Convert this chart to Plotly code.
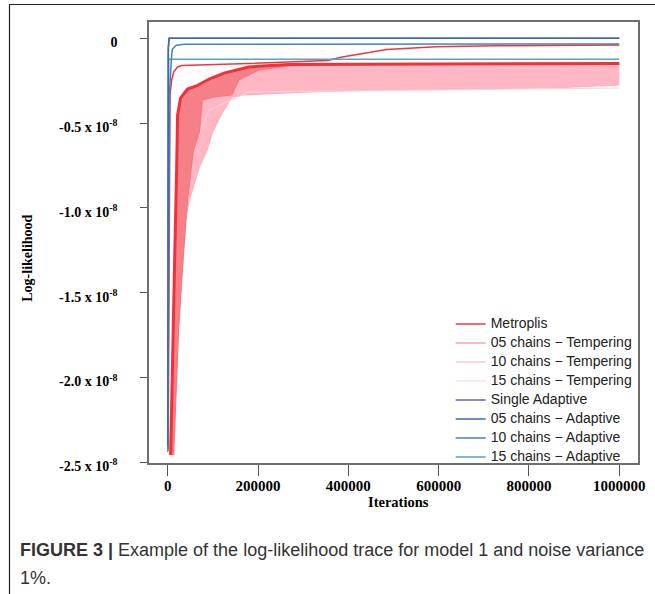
import plotly.graph_objects as go

# ---------------- data (y in units of 1e-8) ----------------
# Metroplis: main trace (thin line) and its best-run envelope (thick line)
metro_x = [1000, 3000, 4000, 5000, 8734, 13100, 21834, 30568, 179039, 288209,
           353711, 386462, 484715, 593885, 724889, 1000000]
metro_y = [-2.43, -1.54, -0.66, -0.334, -0.246, -0.199, -0.169, -0.160, -0.149, -0.140,
           -0.131, -0.110, -0.066, -0.050, -0.044, -0.039]

metro2_x = [6550, 8734, 10917, 15284, 19651, 21834, 28384, 43668, 63319, 91703,
            124454, 179039, 266375, 1000000]
metro2_y = [-2.457, -2.133, -1.779, -1.307, -0.777, -0.452, -0.352, -0.299, -0.281, -0.240,
            -0.205, -0.169, -0.154, -0.149]

# 05 chains - Tempering : lower edge of the band of chains (upper edge = metro2)
t05_x = [13100, 24017, 32751, 43668, 56768, 69869, 76419, 102620, 141921, 157205,
         200873, 266375, 353711, 1000000]
t05_y = [-2.457, -1.720, -1.348, -0.953, -0.659, -0.558, -0.364, -0.346, -0.334, -0.246,
         -0.187, -0.163, -0.154, -0.152]

# 10 chains - Tempering : lower edge of the band of chains
t10_x = [4367, 15284, 19651, 26201, 32751, 48035, 69869, 87336, 98253, 117904,
         141921, 168122, 353711, 462881, 849344, 1000000]
t10_y = [-2.457, -1.720, -1.543, -1.348, -1.148, -0.953, -0.759, -0.659, -0.558, -0.452,
         -0.346, -0.334, -0.311, -0.305, -0.293, -0.275]

# 15 chains - Tempering
t15_x = [4367, 13100, 37118, 91703, 179039, 1000000]
t15_y = [-2.427, -1.543, -0.777, -0.423, -0.317, -0.293]

# Adaptive runs
sa_x = [0, 300, 1000, 3000, 1000000]
sa_y = [-2.37, -0.50, -0.07, 0.0, 0.0]
a05_x = [0, 500, 1500, 3000, 1000000]
a05_y = [-2.40, -0.40, -0.05, 0.0, 0.0]
a10_x = [0, 4367, 8000, 10000, 19000, 37000, 1000000]
a10_y = [-2.42, -0.30, -0.128, -0.065, -0.041, -0.035, -0.034]
a15_x = [0, 300, 1000, 2000, 1000000]
a15_y = [-2.44, -0.60, -0.15, -0.124, -0.124]

y_tickvals = [0, -0.5, -1.0, -1.5, -2.0, -2.5]
y_ticktext = ["0", "-0.5 x 10<sup>-8</sup>", "-1.0 x 10<sup>-8</sup>", "-1.5 x 10<sup>-8</sup>",
              "-2.0 x 10<sup>-8</sup>", "-2.5 x 10<sup>-8</sup>"]
x_tickvals = [0, 200000, 400000, 600000, 800000, 1000000]
x_ticktext = ["0", "200000", "400000", "600000", "800000", "1000000"]

# ---------------- colours ----------------
C_METRO = "#ee3640"
C_METRO2 = "#f2303a"
C_T05 = "#f5787f"
C_T05_FILL = "#f68088"
C_T10 = "#fbb0ba"
C_T10_FILL = "#ffb8c3"
C_T15 = "#f5d3de"
C_SA = "#5c5ce0"
C_A05 = "#3d6aae"
C_A10 = "#4a82b4"
C_A15 = "#58a3c0"


def lg(name):
    return '<span style="font-size:14px">' + name + "</span>"


fig = go.Figure()

# band of 10-chain tempering runs
fig.add_trace(go.Scatter(x=metro2_x + t10_x[::-1], y=metro2_y + t10_y[::-1], mode="lines",
                         fill="toself", fillcolor=C_T10_FILL, line=dict(width=0),
                         showlegend=False, hoverinfo="skip"))
fig.add_trace(go.Scatter(x=t10_x, y=t10_y, mode="lines", name=lg("10 chains \u2212 Tempering"),
                         line=dict(color=C_T10, width=1.2), legendrank=3))
fig.add_trace(go.Scatter(x=t15_x, y=t15_y, mode="lines", name=lg("15 chains \u2212 Tempering"),
                         line=dict(color=C_T15, width=1.2), legendrank=4))
# band of 5-chain tempering runs
fig.add_trace(go.Scatter(x=metro2_x + t05_x[::-1], y=metro2_y + t05_y[::-1], mode="lines",
                         fill="toself", fillcolor=C_T05_FILL, line=dict(width=0),
                         showlegend=False, hoverinfo="skip"))
fig.add_trace(go.Scatter(x=t05_x, y=t05_y, mode="lines", name=lg("05 chains \u2212 Tempering"),
                         line=dict(color=C_T05, width=1.2), legendrank=2))
fig.add_trace(go.Scatter(x=metro2_x, y=metro2_y, mode="lines", line=dict(color=C_METRO2, width=3),
                         showlegend=False, hoverinfo="skip"))
fig.add_trace(go.Scatter(x=metro_x, y=metro_y, mode="lines", name=lg("Metroplis"),
                         line=dict(color=C_METRO, width=1.5), legendrank=1))
# adaptive
fig.add_trace(go.Scatter(x=sa_x, y=sa_y, mode="lines", name=lg("Single Adaptive"),
                         line=dict(color=C_SA, width=1.5), legendrank=5))
fig.add_trace(go.Scatter(x=a15_x, y=a15_y, mode="lines", name=lg("15 chains \u2212 Adaptive"),
                         line=dict(color=C_A15, width=1.5), legendrank=8))
fig.add_trace(go.Scatter(x=a10_x, y=a10_y, mode="lines", name=lg("10 chains \u2212 Adaptive"),
                         line=dict(color=C_A10, width=1.5), legendrank=7))
fig.add_trace(go.Scatter(x=a05_x, y=a05_y, mode="lines", name=lg("05 chains \u2212 Adaptive"),
                         line=dict(color=C_A05, width=1.5), legendrank=6))

fig.update_layout(
    width=655, height=594,
    margin=dict(l=149, r=10, t=22, b=131, pad=0),
    paper_bgcolor="white", plot_bgcolor="white",
    xaxis=dict(range=[-41485, 1041485], tickvals=x_tickvals, ticktext=x_ticktext,
               showgrid=False, zeroline=False, showline=True, mirror=True,
               linecolor="#6e6e6e", linewidth=1.5, ticks="outside", ticklen=11,
               tickcolor="#555555", tickwidth=1.2, ticklabelstandoff=-3,
               tickfont=dict(family="Liberation Serif, serif", size=15, color="black", weight="bold")),
    yaxis=dict(range=[-2.504, 0.0961], tickvals=y_tickvals, ticktext=y_ticktext,
               showgrid=False, zeroline=False, showline=True, mirror=True,
               linecolor="#6e6e6e", linewidth=1.5, ticks="outside", ticklen=7,
               tickcolor="#555555", tickwidth=1.2, ticklabelstandoff=20, ticklabelshift=4,
               tickfont=dict(family="Liberation Serif, serif", size=14, color="black", weight="bold")),
    legend=dict(x=(455 - 149) / 496, y=(463 - 309.5) / 441, xanchor="left", yanchor="top",
                bgcolor="rgba(0,0,0,0)",
                font=dict(family="Liberation Sans, Arial, sans-serif", size=11.3, color="#222222"),
                tracegroupgap=0),
    showlegend=True,
)

fig.add_annotation(text="Iterations", xref="paper", yref="paper", x=(402 - 149) / 496,
                   y=(463 - 502) / 441, showarrow=False, xanchor="center", yanchor="middle",
                   font=dict(family="Liberation Serif, serif", size=14.5, color="black", weight="bold"))
fig.add_annotation(text="Log-likelihood", xref="paper", yref="paper", x=(25 - 149) / 496,
                   y=(463 - 258) / 441, showarrow=False, textangle=-90, xanchor="center",
                   yanchor="middle",
                   font=dict(family="Liberation Serif, serif", size=14, color="black", weight="bold"))
# caption
fig.add_annotation(text="<b>FIGURE 3 |</b> Example of the log-likelihood trace for model 1 and noise variance",
                   xref="paper", yref="paper", x=(16 - 149) / 496, y=(463 - 550) / 441,
                   showarrow=False, xanchor="left", yanchor="middle",
                   font=dict(family="Liberation Sans, Arial, sans-serif", size=18, color="#333333"))
fig.add_annotation(text="1%.", xref="paper", yref="paper", x=(16 - 149) / 496, y=(463 - 578) / 441,
                   showarrow=False, xanchor="left", yanchor="middle",
                   font=dict(family="Liberation Sans, Arial, sans-serif", size=18, color="#333333"))
# outer figure frame (top and left edges)
fig.add_shape(type="line", xref="paper", yref="paper", x0=(7 - 149) / 496, x1=1.05,
              y0=(463 - 4.5) / 441, y1=(463 - 4.5) / 441, line=dict(color="#222222", width=1.2))
fig.add_shape(type="line", xref="paper", yref="paper", x0=(7.5 - 149) / 496, x1=(7.5 - 149) / 496,
              y0=(463 - 4.5) / 441, y1=-0.35, line=dict(color="#222222", width=1.2))

fig.write_html("out.html")
